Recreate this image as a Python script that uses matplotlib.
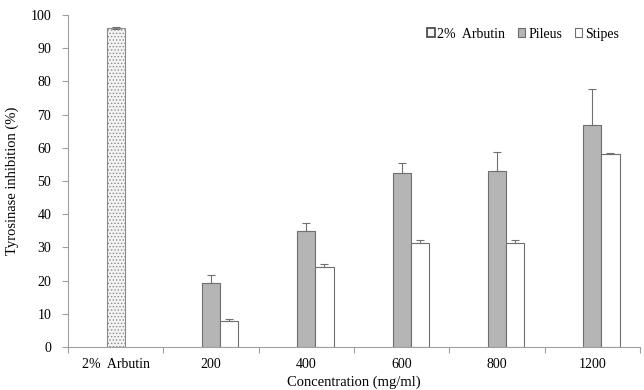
import matplotlib
matplotlib.use("Agg")
import matplotlib.pyplot as plt
import numpy as np
from matplotlib.patches import Patch

plt.rcParams['font.family'] = ['Liberation Serif', 'DejaVu Serif']
plt.rcParams['hatch.linewidth'] = 0.6

categories = ['2%  Arbutin', '200', '400', '600', '800', '1200']
arbutin_val = [96.0]
arbutin_err = [0.3]
pileus_val = [19.3, 35.0, 52.3, 53.1, 67.0]
pileus_err = [2.4, 2.2, 3.2, 5.5, 10.6]
stipes_val = [7.9, 24.2, 31.3, 31.4, 58.0]
stipes_err = [0.5, 0.8, 0.8, 0.8, 0.4]

fig = plt.figure(figsize=(6.44, 3.9), dpi=100)
ax = fig.add_axes([0.1056, 0.1103, 0.8882, 0.8512])

w = 0.19
x = np.arange(len(categories))
edge = '#6e6e6e'
ax.bar(x[:1], arbutin_val, w, color='#f4f4f4', edgecolor='#8a8a8a', hatch='.....',
       linewidth=0.8, yerr=arbutin_err, error_kw=dict(ecolor='#707070', elinewidth=0.8, capsize=3, capthick=0.8),
       label='2%  Arbutin')
ax.bar(x[1:], pileus_val, w, color='#b5b5b5', edgecolor=edge, linewidth=0.8,
       yerr=[np.zeros(5), pileus_err], error_kw=dict(ecolor='#707070', elinewidth=0.8, capsize=3, capthick=0.8),
       label='Pileus')
ax.bar(x[1:] + w, stipes_val, w, color='white', edgecolor=edge, linewidth=0.8,
       yerr=[np.zeros(5), stipes_err], error_kw=dict(ecolor='#707070', elinewidth=0.8, capsize=3, capthick=0.8),
       label='Stipes')

ax.set_xlim(-0.5, len(categories) - 0.5)
ax.set_ylim(0, 100)
ax.set_yticks(np.arange(0, 101, 10))
ax.set_xticks(x)
ax.set_xticklabels(categories, fontsize=10)
ax.set_xticks(np.arange(-0.5, len(categories)), minor=True)
ax.tick_params(axis='x', which='major', length=0, pad=8)
ax.tick_params(axis='x', which='minor', length=4, color='#a0a0a0', width=0.8)
ax.tick_params(axis='y', length=4, color='#a0a0a0', width=0.8, labelsize=10, pad=8)
for s in ['top', 'right']:
    ax.spines[s].set_visible(False)
for s in ['left', 'bottom']:
    ax.spines[s].set_color('#a0a0a0')
    ax.spines[s].set_linewidth(0.8)

ax.set_ylabel('Tyrosinase inhibition (%)', fontsize=10.5, labelpad=8)
ax.set_xlabel('Concentration (mg/ml)', fontsize=10.5, labelpad=3)

handles = [Patch(facecolor='#f4f4f4', edgecolor='#404040', linewidth=1.2, label='2%  Arbutin'),
           Patch(facecolor='#b5b5b5', edgecolor=edge, linewidth=0.8, label='Pileus'),
           Patch(facecolor='white', edgecolor=edge, linewidth=0.8, label='Stipes')]
ax.legend(handles=handles, loc='upper right', ncol=3, frameon=False, fontsize=10,
          handlelength=0.55, handleheight=0.55, handletextpad=0.2, columnspacing=0.9,
          bbox_to_anchor=(0.985, 1.0))

fig.savefig('out.png', dpi=100)
